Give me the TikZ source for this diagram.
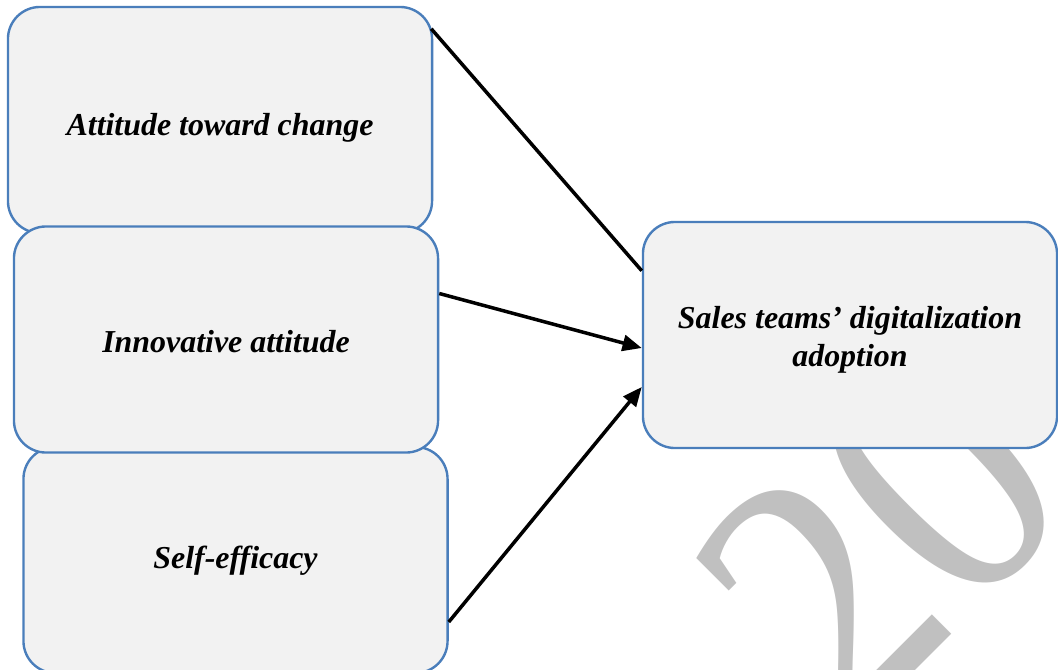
\documentclass[tikz,border=0pt]{standalone}
\usepackage{fontspec}
\setmainfont{Liberation Serif}
\usetikzlibrary{calc,positioning,arrows.meta}
\definecolor{boxblue}{HTML}{4A7EBB}
\definecolor{boxgray}{HTML}{F2F2F2}
\definecolor{markgray}{HTML}{C0C0C0}

\begin{document}
\begin{tikzpicture}[x=0.025cm, y=-0.025cm,
  factor/.style={draw=boxblue, line width=1.7pt, fill=boxgray, rounded corners=0.8cm,
    minimum width=10.6cm, minimum height=5.65cm, inner sep=0pt,
    font=\fontsize{22.7}{27}\selectfont\bfseries\itshape,
    text height=0.6cm, text depth=0.2cm},
  link/.style={line width=2.5pt, -{Triangle[length=0.48cm, width=0.4cm]}}]
\useasboundingbox (0,0) rectangle (1058,670);

% watermark behind everything
\node[anchor=base west, inner sep=0pt, rotate=45, text=markgray,
  font=\fontsize{238}{238}\selectfont] (mark) at (846,740) {\scalebox{1}[1.09]{20}};

% the three factors, middle one on top
\node[factor, text height=0.9cm, text depth=0.15cm] (att) at (220,120) {Attitude toward change};
\node[factor] (self) at (235.5,560) {Self-efficacy};
\node[factor, text height=0.8cm, text depth=0.175cm] (inno) at (226,339.5) {Innovative attitude};

\node[factor, minimum width=10.35cm, text height={}, text depth={}, align=center] (sales) at (850,335)
  {\rule{0pt}{0.8cm}Sales teams’ digitalization\\adoption};

% paths into the outcome
\draw[link, arrows=-] ($(att.north east)+(-2,23)$) -- ($(sales.north west)+(0,50)$);
\draw[link] ($(inno.east)+(0,-46)$) -- ($(sales.west)+(0,13)$);
\draw[link] ($(self.east)+(0,62)$) -- ($(sales.west)+(0,52)$);
\end{tikzpicture}
\end{document}
